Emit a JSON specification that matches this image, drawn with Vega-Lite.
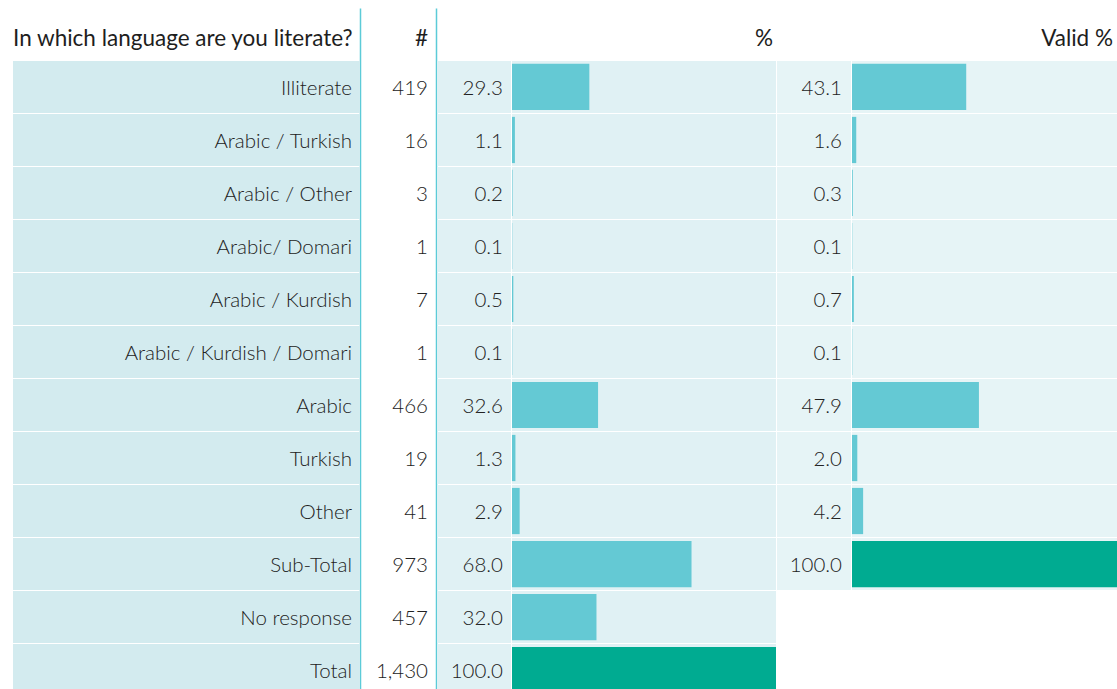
{
  "$schema": "https://vega.github.io/schema/vega-lite/v6.json",
  "padding": {"left": 13, "top": 8, "right": 0, "bottom": 0},
  "spacing": 1,
  "config": {
    "view": {"stroke": null},
    "font": "Lato",
    "text": {"font": "Lato", "fontSize": 20.5, "fontWeight": 300, "color": "#222222", "baseline": "middle", "dy": 2},
    "bar": {"stroke": null}
  },
  "datasets": {
    "rows": [
      {"label": "Illiterate", "n": 419, "pct": 29.3, "valid": 43.1},
      {"label": "Arabic / Turkish", "n": 16, "pct": 1.1, "valid": 1.6},
      {"label": "Arabic / Other", "n": 3, "pct": 0.2, "valid": 0.3},
      {"label": "Arabic/ Domari", "n": 1, "pct": 0.1, "valid": 0.1},
      {"label": "Arabic / Kurdish", "n": 7, "pct": 0.5, "valid": 0.7},
      {"label": "Arabic / Kurdish / Domari", "n": 1, "pct": 0.1, "valid": 0.1},
      {"label": "Arabic", "n": 466, "pct": 32.6, "valid": 47.9},
      {"label": "Turkish", "n": 19, "pct": 1.3, "valid": 2.0},
      {"label": "Other", "n": 41, "pct": 2.9, "valid": 4.2},
      {"label": "Sub-Total", "n": 973, "pct": 68.0, "valid": 100.0},
      {"label": "No response", "n": 457, "pct": 32.0, "valid": null},
      {"label": "Total", "n": 1430, "pct": 100.0, "valid": null}
    ],
    "headers": [
      {"label": "_header", "col": "label", "text": "In which language are you literate?"},
      {"label": "_header", "col": "n", "text": "#"},
      {"label": "_header", "col": "pct", "text": "%"},
      {"label": "_header", "col": "valid", "text": "Valid %"}
    ]
  },
  "hconcat": [
    {
      "width": 347, "height": 688,
      "encoding": {
        "y": {"field": "label", "type": "nominal", "scale": {"domain": ["_header", "Illiterate", "Arabic / Turkish", "Arabic / Other", "Arabic/ Domari", "Arabic / Kurdish", "Arabic / Kurdish / Domari", "Arabic", "Turkish", "Other", "Sub-Total", "No response", "Total"], "paddingInner": 0.02, "paddingOuter": 0},
          "axis": {"orient": "right", "domain": true, "domainColor": "#5ccbd8", "domainWidth": 1.5, "labels": false, "ticks": false, "grid": false, "title": null}}
      },
      "layer": [
        {"data": {"name": "rows"}, "mark": {"type": "bar", "color": "#d3ebef"},
         "encoding": {"x": {"datum": 0, "type": "quantitative", "scale": {"domain": [0, 1]}, "axis": null}, "x2": {"datum": 1}}},
        {"data": {"name": "rows"}, "mark": {"type": "text", "align": "right", "dx": -8},
         "encoding": {"x": {"datum": 1, "type": "quantitative", "scale": {"domain": [0, 1]}, "axis": null}, "text": {"field": "label"}}},
        {"data": {"name": "headers"}, "transform": [{"filter": "datum.col === 'label'"}], "mark": {"type": "text", "align": "left", "dy": 5, "fontSize": 22.5, "fontWeight": 400, "color": "#1e1e1e"},
         "encoding": {"x": {"datum": 0, "type": "quantitative", "scale": {"domain": [0, 1]}, "axis": null}, "text": {"field": "text"}}}
      ]
    },
    {
      "width": 75, "height": 688,
      "encoding": {
        "y": {"field": "label", "type": "nominal", "scale": {"domain": ["_header", "Illiterate", "Arabic / Turkish", "Arabic / Other", "Arabic/ Domari", "Arabic / Kurdish", "Arabic / Kurdish / Domari", "Arabic", "Turkish", "Other", "Sub-Total", "No response", "Total"], "paddingInner": 0.02, "paddingOuter": 0},
          "axis": {"orient": "right", "domain": true, "domainColor": "#5ccbd8", "domainWidth": 1.5, "labels": false, "ticks": false, "grid": false, "title": null}}
      },
      "layer": [
        {"data": {"name": "rows"}, "mark": {"type": "text", "align": "right", "dx": -8},
         "encoding": {"x": {"datum": 1, "type": "quantitative", "scale": {"domain": [0, 1]}, "axis": null}, "text": {"field": "n", "format": ",d"}}},
        {"data": {"name": "headers"}, "transform": [{"filter": "datum.col === 'n'"}], "mark": {"type": "text", "align": "right", "dx": -8, "dy": 5, "fontSize": 22.5, "fontWeight": 400, "color": "#1e1e1e"},
         "encoding": {"x": {"datum": 1, "type": "quantitative", "scale": {"domain": [0, 1]}, "axis": null}, "text": {"field": "text"}}}
      ]
    },
    {
      "width": 74, "height": 688,
      "encoding": {
        "y": {"field": "label", "type": "nominal", "scale": {"domain": ["_header", "Illiterate", "Arabic / Turkish", "Arabic / Other", "Arabic/ Domari", "Arabic / Kurdish", "Arabic / Kurdish / Domari", "Arabic", "Turkish", "Other", "Sub-Total", "No response", "Total"], "paddingInner": 0.02, "paddingOuter": 0}, "axis": null}
      },
      "layer": [
        {"data": {"name": "rows"}, "mark": {"type": "bar", "color": "#e0f1f4"},
         "encoding": {"x": {"datum": 0, "type": "quantitative", "scale": {"domain": [0, 1]}, "axis": null}, "x2": {"datum": 1}}},
        {"data": {"name": "rows"}, "mark": {"type": "text", "align": "right", "dx": -8},
         "encoding": {"x": {"datum": 1, "type": "quantitative", "scale": {"domain": [0, 1]}, "axis": null}, "text": {"field": "pct", "format": ".1f"}}}
      ]
    },
    {
      "width": 264, "height": 688,
      "encoding": {
        "y": {"field": "label", "type": "nominal", "scale": {"domain": ["_header", "Illiterate", "Arabic / Turkish", "Arabic / Other", "Arabic/ Domari", "Arabic / Kurdish", "Arabic / Kurdish / Domari", "Arabic", "Turkish", "Other", "Sub-Total", "No response", "Total"], "paddingInner": 0.02, "paddingOuter": 0}, "axis": null}
      },
      "layer": [
        {"data": {"name": "rows"}, "mark": {"type": "bar", "color": "#e0f1f4"},
         "encoding": {"x": {"datum": 0, "type": "quantitative", "scale": {"domain": [0, 100]}, "axis": null}, "x2": {"datum": 100}}},
        {"data": {"name": "rows"}, "mark": {"type": "bar", "height": {"band": 0.89}},
         "encoding": {"x": {"field": "pct", "type": "quantitative", "scale": {"domain": [0, 100]}, "axis": null},
           "color": {"condition": {"test": "datum.pct >= 100", "value": "#00ab91"}, "value": "#64c9d4"}}},
        {"data": {"name": "headers"}, "transform": [{"filter": "datum.col === 'pct'"}], "mark": {"type": "text", "align": "right", "dx": -3, "dy": 5, "fontSize": 22.5, "fontWeight": 400, "color": "#1e1e1e"},
         "encoding": {"x": {"datum": 100, "type": "quantitative", "scale": {"domain": [0, 100]}, "axis": null}, "text": {"field": "text"}}}
      ]
    },
    {
      "width": 74, "height": 688,
      "encoding": {
        "y": {"field": "label", "type": "nominal", "scale": {"domain": ["_header", "Illiterate", "Arabic / Turkish", "Arabic / Other", "Arabic/ Domari", "Arabic / Kurdish", "Arabic / Kurdish / Domari", "Arabic", "Turkish", "Other", "Sub-Total", "No response", "Total"], "paddingInner": 0.02, "paddingOuter": 0}, "axis": null}
      },
      "layer": [
        {"data": {"name": "rows"}, "transform": [{"filter": "datum.valid != null"}], "mark": {"type": "bar", "color": "#e6f4f6"},
         "encoding": {"x": {"datum": 0, "type": "quantitative", "scale": {"domain": [0, 1]}, "axis": null}, "x2": {"datum": 1}}},
        {"data": {"name": "rows"}, "transform": [{"filter": "datum.valid != null"}], "mark": {"type": "text", "align": "right", "dx": -9},
         "encoding": {"x": {"datum": 1, "type": "quantitative", "scale": {"domain": [0, 1]}, "axis": null}, "text": {"field": "valid", "format": ".1f"}}}
      ]
    },
    {
      "width": 265, "height": 688,
      "encoding": {
        "y": {"field": "label", "type": "nominal", "scale": {"domain": ["_header", "Illiterate", "Arabic / Turkish", "Arabic / Other", "Arabic/ Domari", "Arabic / Kurdish", "Arabic / Kurdish / Domari", "Arabic", "Turkish", "Other", "Sub-Total", "No response", "Total"], "paddingInner": 0.02, "paddingOuter": 0}, "axis": null}
      },
      "layer": [
        {"data": {"name": "rows"}, "transform": [{"filter": "datum.valid != null"}], "mark": {"type": "bar", "color": "#e6f4f6"},
         "encoding": {"x": {"datum": 0, "type": "quantitative", "scale": {"domain": [0, 100]}, "axis": null}, "x2": {"datum": 100}}},
        {"data": {"name": "rows"}, "transform": [{"filter": "datum.valid != null"}], "mark": {"type": "bar", "height": {"band": 0.89}},
         "encoding": {"x": {"field": "valid", "type": "quantitative", "scale": {"domain": [0, 100]}, "axis": null},
           "color": {"condition": {"test": "datum.valid >= 100", "value": "#00ab91"}, "value": "#64c9d4"}}},
        {"data": {"name": "headers"}, "transform": [{"filter": "datum.col === 'valid'"}], "mark": {"type": "text", "align": "right", "dx": -4, "dy": 5, "fontSize": 22.5, "fontWeight": 400, "color": "#1e1e1e"},
         "encoding": {"x": {"datum": 100, "type": "quantitative", "scale": {"domain": [0, 100]}, "axis": null}, "text": {"field": "text"}}}
      ]
    }
  ]
}
